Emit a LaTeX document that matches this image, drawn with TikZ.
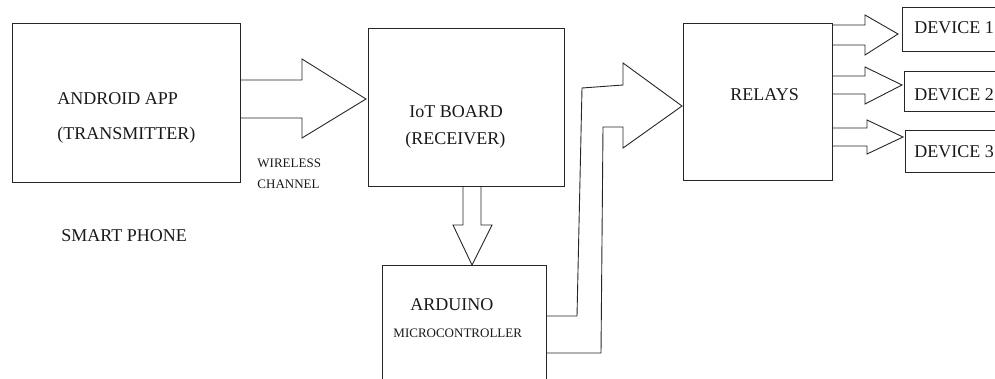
\documentclass[tikz,border=0pt]{standalone}
\usepackage{fontspec}
\setmainfont{Liberation Serif}
\begin{document}
\begin{tikzpicture}[x=1pt,y=-1pt,line width=0.9pt,
  box/.style={draw=black!85,inner sep=0pt,anchor=north west},
  lbl/.style={inner sep=0pt,anchor=base west,font=\fontsize{18}{20}\selectfont,text=black!90},
  small/.style={inner sep=0pt,anchor=base west,font=\fontsize{13}{15}\selectfont,text=black!90},
  blockarrow/.style={draw=black!85,line join=miter}]
\useasboundingbox (0,0) rectangle (995,378);
\clip (0,0) rectangle (995,378);
% boxes
\node[box,minimum width=228pt,minimum height=159pt] (android) at (12,23) {};
\node[box,minimum width=196pt,minimum height=158pt] (iot) at (368,28) {};
\node[box,minimum width=164pt,minimum height=130pt] (arduino) at (382,265) {};
\node[box,minimum width=149pt,minimum height=157pt] (relays) at (683,23) {};
\node[box,minimum width=110pt,minimum height=44pt] (dev1) at (902,7) {};
\node[box,minimum width=110pt,minimum height=40pt] (dev2) at (904,71) {};
\node[box,minimum width=110pt,minimum height=42pt] (dev3) at (905,130) {};
% texts
\node[lbl] (t1) at (57,104) {ANDROID APP};
\node[lbl] (t2) at (57,139) {(TRANSMITTER)};
\node[small] (t3) at (257,167) {WIRELESS};
\node[small] (t4) at (257,188) {CHANNEL};
\node[lbl] (t5) at (61,241) {SMART PHONE};
\node[lbl] (t6) at (409,117) {IoT BOARD};
\node[lbl] (t7) at (405,144) {(RECEIVER)};
\node[lbl] (t8) at (730,100) {RELAYS};
\node[lbl] (t9) at (410,310) {ARDUINO};
\node[small] (t10) at (393,337) {MICROCONTROLLER};
\node[lbl] (t11) at (914,33) {DEVICE 1};
\node[lbl] (t12) at (914,100) {DEVICE 2};
\node[lbl] (t13) at (914,157) {DEVICE 3};
% block arrows
\draw[blockarrow] (240,80)--(302,80)--(302,59)--(366,99)--(302,138)--(302,118)--(240,118);
\draw[blockarrow] (463,186)--(463,225)--(453,225)--(472,265)--(492,225)--(481,225)--(481,186);
\draw[blockarrow] (832,25)--(865,25)--(865,15)--(898,34)--(865,55)--(865,45)--(832,45);
\draw[blockarrow] (832,76)--(865,76)--(865,67)--(902,85)--(865,104)--(865,94)--(832,94);
\draw[blockarrow] (832,128)--(867,128)--(867,120)--(903,137)--(867,154)--(867,146)--(832,146);
\draw[blockarrow] (546,316)--(577,316)--(582,88)--(623,85)--(623,63)--(682,106)--(623,148)--(623,127)--(603,127)--(601,353)--(546,353);
\end{tikzpicture}
\end{document}
